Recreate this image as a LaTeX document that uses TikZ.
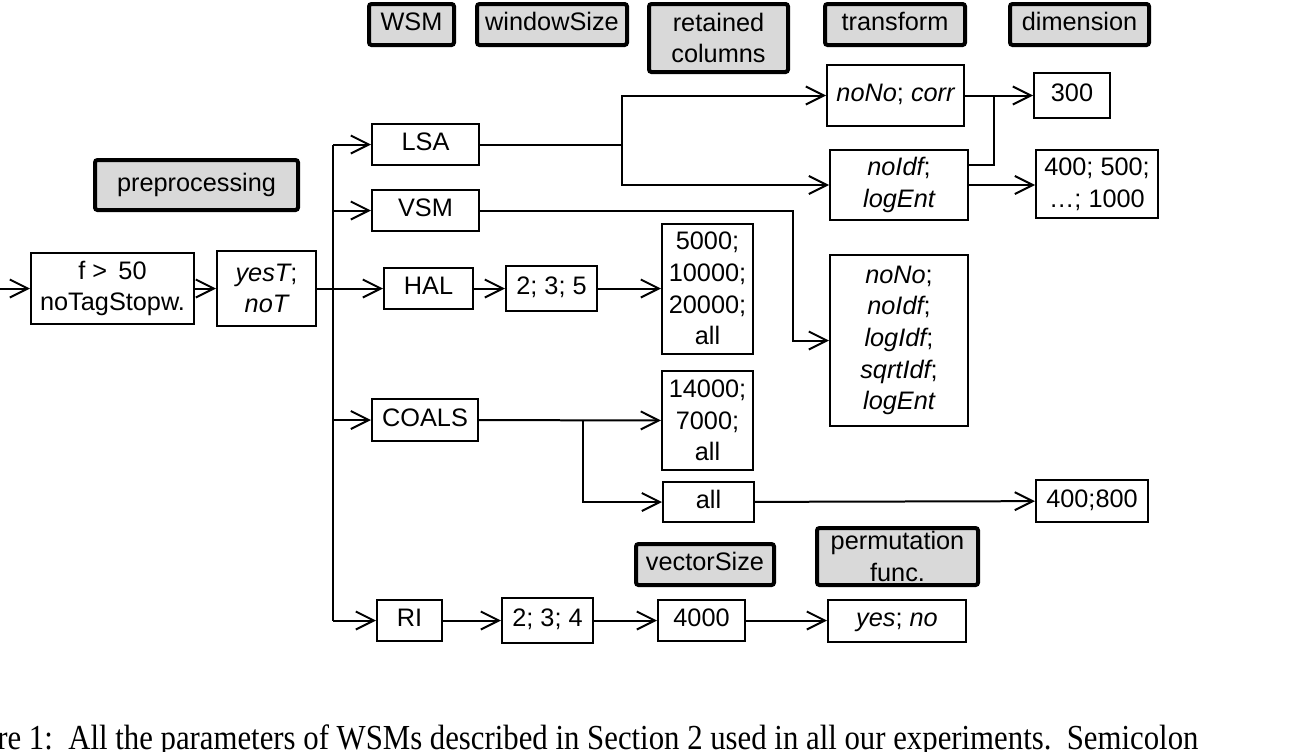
\documentclass[tikz,border=0pt]{standalone}
\usepackage{fontspec}
\setmainfont{Liberation Sans}
\newfontfamily\capfont{Liberation Serif}
\usepackage{xcolor}
\usepackage{tikz}
\usetikzlibrary{arrows.meta}
\definecolor{headgray}{HTML}{D9D9D9}

\begin{document}
\begin{tikzpicture}[x=0.02cm, y=-0.02cm,
        font=\fontsize{14.4}{18}\selectfont,
        sz/.style 2 args={minimum width=#1*0.02cm, minimum height=#2*0.02cm},
        one/.style={text height=0.72em, text depth=0pt},
        lines/.style={align=center},
        box/.style={draw, line width=0.04cm, inner sep=0pt},
        head/.style={draw, line width=0.08cm, fill=headgray, rounded corners=0.05cm, inner sep=0pt},
        wire/.style={line width=0.04cm},
        link/.style={wire, -{Straight Barb[length=0.36cm, width=0.36cm]}}]

        \clip (0,0) rectangle (1290,751);

        \node[head, one, sz={85}{41}] (hwsm) at (411.5,24.5) {WSM};
        \node[head, one, sz={150}{41}] (hwin) at (552,24.5) {windowSize};
        \node[head, lines, sz={139}{68}] (hcol) at (718.5,38) {retained\\columns};
        \node[head, one, sz={140}{41}] (htr) at (895,24.5) {transform};
        \node[head, one, sz={139}{41}] (hdim) at (1079.5,24.5) {dimension};
        \node[head, one, sz={203}{50}] (hpre) at (196.5,185) {preprocessing};
        \node[head, one, sz={138}{41}] (hvec) at (705,564.5) {vectorSize};
        \node[head, lines, sz={161}{57}] (hperm) at (897.5,556.5) {permutation\\func.};

        \node[box, lines, sz={163}{71}] (filt) at (112.5,288.5) {f >\, 50\\noTagStopw.};
        \node[box, lines, sz={99}{75}] (tag) at (266.5,288.5) {{\itshape yesT};\\{\itshape noT}};

        \node[box, one, sz={107}{41}] (lsa) at (425.5,144.5) {LSA};
        \node[box, one, sz={107}{41}] (vsm) at (425.5,210.5) {VSM};
        \node[box, one, sz={89}{41}] (hal) at (428.5,288.5) {HAL};
        \node[box, one, sz={106}{42}] (coals) at (425,420) {COALS};
        \node[box, one, sz={65}{41}] (ri) at (409.5,620.5) {RI};

        \node[box, one, sz={91}{45}] (win235) at (551.5,288.5) {2; 3; 5};
        \node[box, one, sz={91}{45}] (win234) at (547.5,620.5) {2; 3; 4};

        \node[box, lines, sz={91}{130}] (colhal) at (707.5,288.5) {5000;\\10000;\\20000;\\all};
        \node[box, lines, sz={91}{99}] (colcoals) at (707.5,420.5) {14000;\\7000;\\all};
        \node[box, one, sz={91}{40}] (colall) at (708.5,502) {all};
        \node[box, one, sz={87}{41}] (vec) at (701.5,620.5) {4000};

        \node[box, one, sz={137}{61}] (trcorr) at (895.5,95.5) {{\itshape noNo}; {\itshape corr}};
        \node[box, lines, sz={138}{70}] (tridf) at (899,185) {{\itshape noIdf};\\{\itshape logEnt}};
        \node[box, lines, sz={138}{171}] (trall) at (899,340.5) {{\itshape noNo};\\{\itshape noIdf};\\{\itshape logIdf};\\{\itshape sqrtIdf};\\{\itshape logEnt}};
        \node[box, one, sz={138}{42}] (perm) at (897,620.5) {{\itshape yes}; {\itshape no}};

        \node[box, one, sz={76}{45}] (d300) at (1072,95.5) {300};
        \node[box, lines, sz={122}{68}] (d1000) at (1097,184) {400; 500;\\…; 1000};
        \node[box, one, sz={112}{42}] (d800) at (1092,501) {400;800};

        \node[anchor=base west, inner sep=0pt, font=\capfont\fontsize{20}{24}\selectfont] (caption) at (-3,749)
                {\scalebox{0.876}[1]{re 1:\ \ All the parameters of WSMs described in Section 2 used in all our experiments.\ \ Semicolon}};

        \coordinate (start) at (0,288.5);
        \coordinate (bus) at (333,288.5);
        \coordinate (lsasplit) at (622,144.5);
        \coordinate (vsmbend) at (793,340.5);
        \coordinate (dimjoin) at (994,95.5);
        \coordinate (coalsplit) at (583,420);

        \draw[link] (start) -- (filt);
        \draw[link] (filt) -- (tag);
        \draw[wire] (tag) -- (bus);
        \draw[wire] (bus |- lsa) -- (bus |- ri);
        \foreach \wsm in {lsa, vsm, hal, coals, ri}
                \draw[link] (bus |- \wsm) -- (\wsm);

        \draw[wire] (lsa) -- (lsasplit);
        \draw[link] (lsasplit) |- (trcorr);
        \draw[link] (lsasplit) |- (tridf);
        \draw[link] (trcorr) -- (d300);
        \draw[wire] ([yshift=0.4cm]tridf.east) -| (dimjoin);
        \draw[link] (tridf) -- (tridf -| d1000.west);

        \draw[link] (vsm) -- (vsm -| vsmbend) |- (trall);

        \draw[link] (hal) -- (win235);
        \draw[link] (win235) -- (colhal);

        \draw[link] (coals) -- (colcoals);
        \draw[link] (coalsplit) |- (colall);
        \draw[link] (colall) -- (d800);

        \draw[link] (ri) -- (win234);
        \draw[link] (win234) -- (vec);
        \draw[link] (vec) -- (perm);

    \end{tikzpicture}
\end{document}
